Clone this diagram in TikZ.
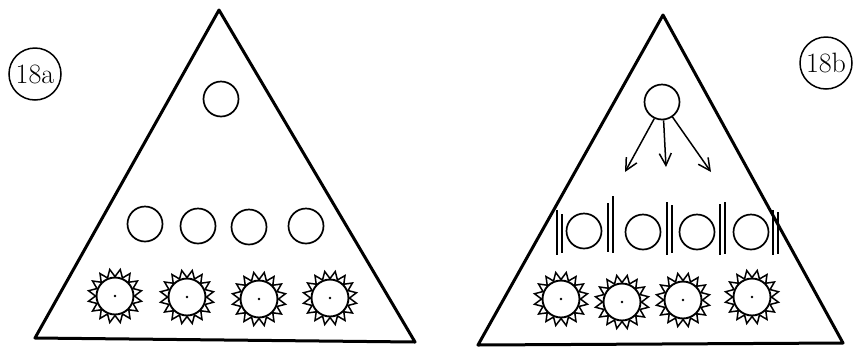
\documentclass[tikz,border=0pt]{standalone}
\usetikzlibrary{arrows.meta}
\begin{document}
\begin{tikzpicture}[x=1pt,y=-1pt,
  tri/.style={line width=3pt,line join=round},
  ball/.style={circle,draw,line width=1.7pt,minimum size=35pt,inner sep=0pt},
  ring/.style={circle,draw,line width=1.9pt,minimum size=37pt,inner sep=0pt},
  teeth/.style={line width=1.5pt,line join=miter},
  bar/.style={line width=1.6pt},
  arr/.style={line width=1.5pt,-{Straight Barb[length=12pt,width=12pt,line width=1.5pt]}},
  tag/.style={circle,draw,line width=1.5pt,minimum size=52pt,inner sep=0pt,font=\fontsize{28}{28}\selectfont}]
\useasboundingbox (0,0) rectangle (859,349);
% ---------- left triangle (18a)
\coordinate (LA) at (219,10);
\coordinate (LB) at (35,338);
\coordinate (LC) at (415,342);
\draw[tri] (LA) -- (LB) -- (LC) -- cycle;
\node[tag] (la) at (35,74) {18a};
\node[ball] (lt) at (221,99) {};
\node[ball] (l1) at (145,224) {};
\node[ball] (l2) at (198,226) {};
\node[ball] (l3) at (249,227) {};
\node[ball] (l4) at (306,226) {};
\node[ring] (lg1) at (115,296) {};
\node[ring] (lg2) at (187,297) {};
\node[ring] (lg3) at (259,299) {};
\node[ring] (lg4) at (330,298) {};
% ---------- right triangle (18b)
\coordinate (RA) at (663,15);
\coordinate (RB) at (478,345);
\coordinate (RC) at (843,343);
\draw[tri] (RA) -- (RB) -- (RC) -- cycle;
\node[tag] (lb) at (826,63) {18b};
\node[ball] (rt) at (662,102) {};
\node[ball] (r1) at (584,231) {};
\node[ball] (r2) at (643,232) {};
\node[ball] (r3) at (697,232) {};
\node[ball] (r4) at (751,232) {};
\node[ring] (rg1) at (561,299) {};
\node[ring] (rg2) at (622,302) {};
\node[ring] (rg3) at (683,300) {};
\node[ring] (rg4) at (752,297) {};
\coordinate (a1) at (625,172);
\coordinate (a2) at (666,167);
\coordinate (a3) at (711,172);
\draw[arr] (rt.245) -- (a1);
\draw[arr] (rt.275) -- (a2);
\draw[arr] (rt.305) -- (a3);
% dividers
\foreach \x/\t/\b/\u/\v in {557/210/255/214/253, 608/203/252/196/253, 667/202/255/205/253, 720/204/255/202/254, 773/210/255/212/254}{
  \draw[bar] (\x,\t) -- (\x,\b);
  \draw[bar] (\x+5,\u) -- (\x+5,\v);
}
% gear teeth and centre dots
\foreach \g in {lg1,lg2,lg3,lg4,rg1,rg2,rg3,rg4}{
  \draw[teeth,shift={(\g.center)}] (0:19.5)
    \foreach \k in {1,...,16}{ -- ({(\k-0.5)*22.5}:27) -- ({\k*22.5}:19.5)} -- cycle;
  \fill (\g.center) circle (1.4pt);
}
\end{tikzpicture}
\end{document}
